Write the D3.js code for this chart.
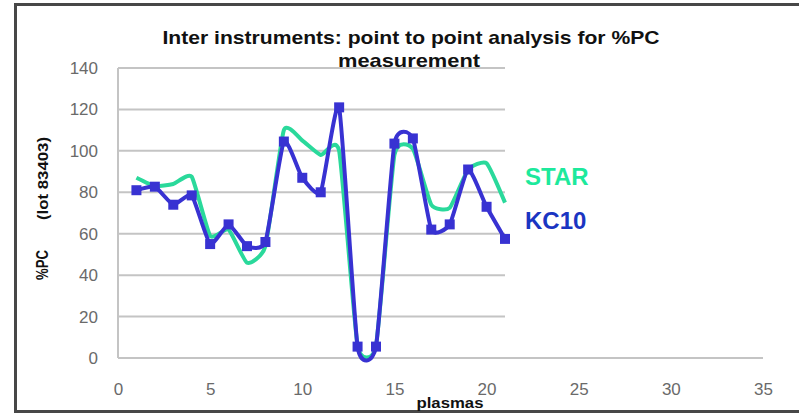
<!DOCTYPE html>
<html>
<head>
<meta charset="utf-8">
<script src="https://cdn.jsdelivr.net/npm/d3@7"></script>
<style>
  html, body { margin: 0; padding: 0; background: #fff; }
  svg { display: block; }
  text { font-family: "Liberation Sans", Arial, sans-serif; }
</style>
</head>
<body>
<svg id="chart" width="799" height="415"></svg>
<script>
// ---- data ----
const plasmas = [1,2,3,4,5,6,7,8,9,10,11,12,13,14,15,16,17,18,19,20,21];
const star = [87,83,84,87.5,59,62,46,54,110,105,98,100,6,6,98,101,74,72.5,91,94,75];
const kc10 = [81,82.7,74,78.5,55,64.5,54,56,104.5,87,80,121,5.5,5.5,103.5,106,62,64.5,91,73,57.5];
const seriesNames = ["STAR","KC10"];
const xTicks = [0,5,10,15,20,25,30,35];
const yTicks = [0,20,40,60,80,100,120,140];
const titleLines = ["Inter instruments: point to point analysis for %PC","measurement"];

const colors = { STAR: "#2ad99b", KC10: "#3832d2" };
const labelColors = { STAR: "#1de99c", KC10: "#1a35c2" };

const svg = d3.select("#chart");

// outer frame
svg.append("rect").attr("x",15.5).attr("y",4.5).attr("width",820).attr("height",407)
  .attr("fill","none").attr("stroke","#474747").attr("stroke-width",3);

const x = d3.scaleLinear().domain([0,35]).range([118,763]);
const y = d3.scaleLinear().domain([0,140]).range([358,68]);

// gridlines (plot area visible up to x = 21)
svg.append("g").selectAll("line").data(yTicks.filter(d => d > 0)).join("line")
  .attr("x1", x(0)).attr("x2", x(21))
  .attr("y1", d => y(d)).attr("y2", d => y(d))
  .attr("stroke","#c4c4c4").attr("stroke-width",2);
// left line
svg.append("line").attr("x1",x(0)).attr("x2",x(0)).attr("y1",y(140)).attr("y2",y(0))
  .attr("stroke","#c4c4c4").attr("stroke-width",2);
// bottom line
svg.append("line").attr("x1",x(0)).attr("x2",x(35)).attr("y1",y(0)).attr("y2",y(0))
  .attr("stroke","#c4c4c4").attr("stroke-width",2);

// axes (labels only)
const xAxis = svg.append("g").attr("transform",`translate(0,${y(0)})`)
  .call(d3.axisBottom(x).tickValues(xTicks).tickSize(0).tickPadding(25));
const yAxis = svg.append("g").attr("transform",`translate(${x(0)},0)`)
  .call(d3.axisLeft(y).tickValues(yTicks).tickSize(0).tickPadding(20));
[xAxis, yAxis].forEach(g => {
  g.select(".domain").remove();
  g.selectAll("text").attr("font-size",17).attr("fill","#6a6a6a")
    .attr("font-family",'"Liberation Sans", Arial, sans-serif');
});

// lines
const line = d3.line().x((d,i) => x(plasmas[i])).y(d => y(d)).curve(d3.curveCardinal.tension(0.5));
svg.append("path").datum(star).attr("d",line).attr("fill","none")
  .attr("stroke",colors.STAR).attr("stroke-width",4).attr("stroke-linejoin","round");
svg.append("path").datum(kc10).attr("d",line).attr("fill","none")
  .attr("stroke",colors.KC10).attr("stroke-width",4).attr("stroke-linejoin","round");
svg.append("g").selectAll("rect").data(kc10).join("rect")
  .attr("x",(d,i) => x(plasmas[i]) - 5).attr("y", d => y(d) - 5)
  .attr("width",10).attr("height",10).attr("fill",colors.KC10);

// title
svg.append("text").attr("x",411).attr("y",44).attr("text-anchor","middle")
  .attr("font-size",19).attr("font-weight","bold").attr("fill","#111")
  .attr("textLength",497).attr("lengthAdjust","spacingAndGlyphs").text(titleLines[0]);
svg.append("text").attr("x",409).attr("y",67).attr("text-anchor","middle")
  .attr("font-size",19).attr("font-weight","bold").attr("fill","#111")
  .attr("textLength",142).attr("lengthAdjust","spacingAndGlyphs").text(titleLines[1]);

// axis titles
svg.append("text").attr("transform","translate(48,265) rotate(-90)").attr("text-anchor","middle")
  .attr("font-size",17).attr("font-weight","bold").attr("fill","#111")
  .attr("textLength",30).attr("lengthAdjust","spacingAndGlyphs").text("%PC");
svg.append("text").attr("transform","translate(48,178.5) rotate(-90)").attr("text-anchor","middle")
  .attr("font-size",15).attr("font-weight","bold").attr("fill","#111")
  .attr("textLength",83).attr("lengthAdjust","spacingAndGlyphs").text("(lot 83403)");
svg.append("text").attr("x",450).attr("y",408).attr("text-anchor","middle")
  .attr("font-size",15).attr("font-weight","bold").attr("fill","#111")
  .attr("textLength",67).attr("lengthAdjust","spacingAndGlyphs").text("plasmas");

// legend labels
svg.append("text").attr("x",525).attr("y",185).attr("font-size",24).attr("font-weight","bold")
  .attr("fill",labelColors.STAR).text(seriesNames[0]);
svg.append("text").attr("x",525).attr("y",229).attr("font-size",24).attr("font-weight","bold")
  .attr("fill",labelColors.KC10).text(seriesNames[1]);
</script>
</body>
</html>
